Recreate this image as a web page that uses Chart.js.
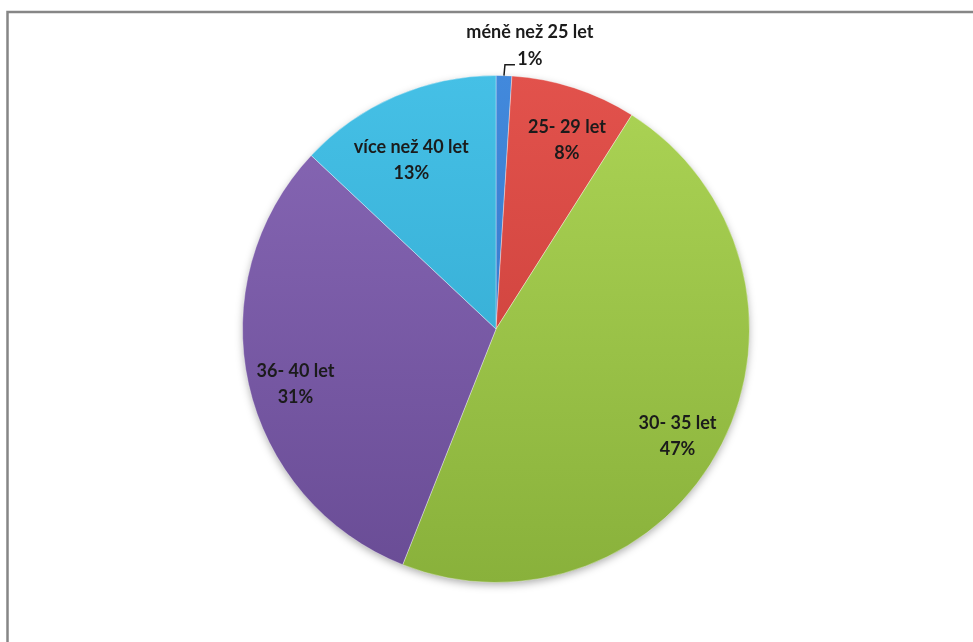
<!DOCTYPE html>
<html>
<head>
<meta charset="utf-8">
<script src="https://cdn.jsdelivr.net/npm/chart.js@4.4.0/dist/chart.umd.min.js"></script>
<style>
  html, body { margin: 0; padding: 0; background: #fff; }
  #wrap { width: 973px; height: 642px; position: relative; }
</style>
</head>
<body>
<div id="wrap"><canvas id="ageChart" width="973" height="642"></canvas></div>
<script>
// age groups and their share (%)
const categories = ['méně než 25 let', '25- 29 let', '30- 35 let', '36- 40 let', 'více než 40 let'];
const shares = [1, 8, 47, 31, 13];
const percentLabels = shares.map(v => v + '%');

// light (top) / dark (bottom) tones per slice
const topColors = ['#4289dc', '#e2524c', '#acd455', '#8868b6', '#45c0e6'];
const bottomColors = ['#2f6fbf', '#c33a35', '#89b13b', '#694c95', '#2ea3ca'];

// inside label placement: part of the radius, and turn from slice middle (deg)
const labelDist = [0, 0.795, 0.832, 0.82, 0.746];
const labelTurn = [0, 2.6, 3.6, -2.7, -3.2];

function sliceFill(ctx) {
  const area = ctx.chart.chartArea;
  if (!area) return topColors[ctx.dataIndex];
  const g = ctx.chart.ctx.createLinearGradient(0, area.top, 0, area.bottom);
  g.addColorStop(0, topColors[ctx.dataIndex]);
  g.addColorStop(1, bottomColors[ctx.dataIndex]);
  return g;
}

const framePlugin = {
  id: 'frame',
  beforeDraw(chart) {
    const c = chart.ctx;
    c.save();
    c.fillStyle = '#fff';
    c.fillRect(0, 0, chart.width, chart.height);
    c.strokeStyle = '#868686';
    c.lineWidth = 2.5;
    c.beginPath();
    c.moveTo(7.5, chart.height);
    c.lineTo(7.5, 12);
    c.lineTo(chart.width, 12);
    c.stroke();
    c.restore();
  },
  beforeDatasetsDraw(chart) {
    // soft shadow under the whole pie
    const arc = chart.getDatasetMeta(0).data[0];
    if (!arc) return;
    const c = chart.ctx;
    c.save();
    c.shadowColor = 'rgba(0,0,0,0.35)';
    c.shadowBlur = 8;
    c.shadowOffsetY = 3;
    c.fillStyle = '#fff';
    c.beginPath();
    c.arc(arc.x, arc.y, arc.outerRadius - 1, 0, Math.PI * 2);
    c.fill();
    c.restore();
  }
};

const labelPlugin = {
  id: 'sliceLabels',
  afterDatasetsDraw(chart) {
    const c = chart.ctx;
    const arcs = chart.getDatasetMeta(0).data;
    c.save();
    c.font = 'bold 18px Lato, "DejaVu Sans", sans-serif';
    c.fillStyle = '#1b1b1b';
    c.textAlign = 'center';
    c.textBaseline = 'middle';
    arcs.forEach((arc, i) => {
      const mid = (arc.startAngle + arc.endAngle) / 2;
      if (i === 0) {
        // small slice: label outside with a leader line
        const ex = arc.x + Math.cos(mid) * arc.outerRadius;
        const ey = arc.y + Math.sin(mid) * arc.outerRadius;
        c.strokeStyle = '#1b1b1b';
        c.lineWidth = 1.5;
        c.beginPath();
        c.moveTo(ex, ey);
        c.lineTo(ex + 1, ey - 11);
        c.lineTo(ex + 11, ey - 11);
        c.stroke();
        c.fillText(categories[i], ex + 26, ey - 43);
        c.fillText(percentLabels[i], ex + 26, ey - 16);
        return;
      }
      const a = mid + labelTurn[i] * Math.PI / 180;
      const r = arc.outerRadius * labelDist[i];
      const x = arc.x + Math.cos(a) * r;
      const y = arc.y + Math.sin(a) * r;
      c.fillText(categories[i], x, y - 13);
      c.fillText(percentLabels[i], x, y + 13);
    });
    c.restore();
  }
};

new Chart(document.getElementById('ageChart'), {
  type: 'pie',
  data: {
    labels: categories,
    datasets: [{
      data: shares,
      backgroundColor: sliceFill,
      borderColor: 'rgba(255,255,255,0.35)',
      borderWidth: 1
    }]
  },
  options: {
    responsive: false,
    animation: false,
    layout: { padding: { top: 75, bottom: 59, left: 19, right: 0 } },
    plugins: {
      legend: { display: false },
      tooltip: { enabled: false }
    }
  },
  plugins: [framePlugin, labelPlugin]
});
</script>
</body>
</html>
